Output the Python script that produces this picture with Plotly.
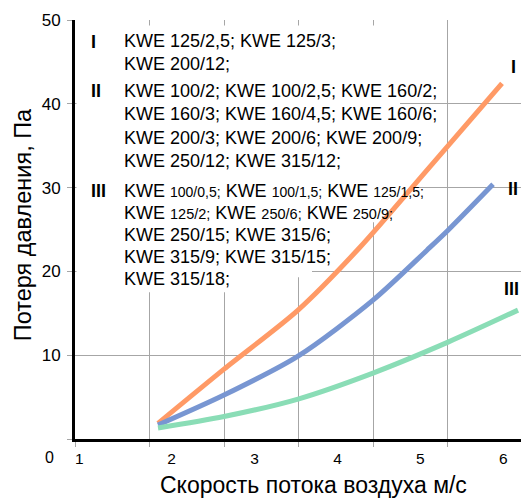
import plotly.graph_objects as go

# ---------------- data ----------------
x_I = [1.835, 2.631, 3.524, 4.271, 5.116, 5.984]
y_I = [1.87, 8.34, 15.38, 22.88, 32.5, 42.43]

x_II = [1.835, 2.631, 3.524, 4.428, 5.079, 5.333, 5.876]
y_II = [1.67, 5.24, 9.89, 16.57, 22.53, 24.91, 30.39]

x_III = [1.835, 2.631, 3.524, 4.428, 5.333, 6.177]
y_III = [1.31, 2.68, 4.77, 7.87, 11.56, 15.38]

series_names = ["I", "II", "III"]
series_colors = ["#FF9A66", "#7896D2", "#8ADDB6"]

x_tick_vals = [0.885, 2, 3, 4, 5, 6]
x_tick_text = ["1", "2", "3", "4", "5", "6"]
y_tick_vals = [0, 10, 20, 30, 40, 50]
y_tick_text = ["", "10", "20", "30", "40", "50"]

group_I = ["KWE 125/2,5; KWE 125/3;", "KWE 200/12;"]
group_II = ["KWE 100/2; KWE 100/2,5; KWE 160/2;",
            "KWE 160/3; KWE 160/4,5; KWE 160/6;",
            "KWE 200/3; KWE 200/6; KWE 200/9;",
            "KWE 250/12; KWE 315/12;"]
group_III = ["KWE 100/0,5; KWE 100/1,5; KWE 125/1,5;",
             "KWE 125/2; KWE 250/6; KWE 250/9;",
             "KWE 250/15; KWE 315/6;",
             "KWE 315/9; KWE 315/15;",
             "KWE 315/18;"]

x_title = "Скорость потока воздуха м/с"
y_title = "Потеря давления, Па"

# ---------------- geometry (pixels) ----------------
W, H = 521, 498
L, R, T, B = 75, 521, 19.5, 439        # plot area in pixels
X0, X1 = 0.834, 6.213                  # velocity-axis range
GRID_STEP = 74.5 / (R - L) * (X1 - X0)  # grid spacing in axis units


def pxp(px):
    return (px - L) / (R - L)


def pyp(py):
    return (B - py) / (B - T)


def dx(px):
    return X0 + (px - L) / (R - L) * (X1 - X0)


def dy(py):
    return (B - py) / (B - T) * 50


FONT = "Liberation Sans, Arial, sans-serif"

fig = go.Figure()
for xs, ys, name, col in zip([x_I, x_II, x_III], [y_I, y_II, y_III],
                             series_names, series_colors):
    fig.add_trace(go.Scatter(x=xs, y=ys, mode="lines", name=name,
                             line=dict(color=col, width=5, shape="spline", smoothing=0.8),
                             hoverinfo="skip"))

# white area behind the text block (covers the grid)
poly = [(76.5, 25), (400, 25), (400, 150), (412, 150), (412, 200), (390, 200),
        (390, 222), (335, 222), (335, 265), (312, 265), (312, 277), (240, 277),
        (240, 292), (76.5, 292)]
path = "M " + " L ".join(f"{dx(a):.4f},{dy(b):.4f}" for a, b in poly) + " Z"
fig.add_shape(type="path", path=path, xref="x", yref="y", layer="between",
              fillcolor="white", line=dict(width=0))

annotations = []


def smaller_numbers(line, size):
    parts = line.split("KWE ")
    out = []
    for p in parts[1:]:
        out.append("KWE " + f"<span style=\"font-size:{size}px\">{p.strip()}</span>")
    return " ".join(out)


line_y = {0: [40.7, 63.3], 1: [90.7, 114, 137.3, 160.7], 2: [191, 212.5, 234.5, 257, 279]}
num_y = [42, 91, 191]
num_size = [14, 14.5]
for gi, (grp, lab) in enumerate(zip([group_I, group_II, group_III], series_names)):
    annotations.append(dict(x=pxp(89), y=pyp(num_y[gi]), xref="paper", yref="paper",
                            text=f"<b>{lab}</b>", showarrow=False, xanchor="left",
                            yanchor="middle", font=dict(family=FONT, size=18, color="black")))
    for li, line in enumerate(grp):
        txt = line
        if gi == 2 and li < 2:
            txt = smaller_numbers(line, num_size[li])
        annotations.append(dict(x=pxp(122), y=pyp(line_y[gi][li]), xref="paper", yref="paper",
                                text=txt, showarrow=False, xanchor="left", yanchor="middle",
                                font=dict(family=FONT, size=18, color="black")))

# curve labels at right
for lab, (px, py, anc) in zip(series_names, [(513, 67, "center"), (513, 189, "center"),
                                             (521, 289, "right")]):
    annotations.append(dict(x=pxp(px), y=pyp(py), xref="paper", yref="paper",
                            text=f"<b>{lab}</b>", showarrow=False, xanchor=anc,
                            yanchor="middle", font=dict(family=FONT, size=18, color="black")))

# the offset "0" tick label
annotations.append(dict(x=pxp(49), y=pyp(458), xref="paper", yref="paper", text="0",
                        showarrow=False, xanchor="center", yanchor="middle",
                        font=dict(family=FONT, size=16, color="black")))
# axis titles
annotations.append(dict(x=pxp(313), y=pyp(485), xref="paper", yref="paper", text=x_title,
                        showarrow=False, xanchor="center", yanchor="middle",
                        font=dict(family=FONT, size=23, color="black")))
annotations.append(dict(x=pxp(23), y=pyp(225), xref="paper", yref="paper", text=y_title,
                        showarrow=False, textangle=-90, xanchor="center", yanchor="middle",
                        font=dict(family=FONT, size=23.5, color="black")))

GRID = "#A6A6A6"
fig.update_layout(
    width=W, height=H,
    margin=dict(l=L, r=W - R, t=T, b=H - B, pad=0, autoexpand=False),
    paper_bgcolor="white", plot_bgcolor="white",
    showlegend=False,
    font=dict(family=FONT, size=16, color="black"),
    xaxis=dict(range=[X0, X1], tickmode="array", tickvals=x_tick_vals, ticktext=x_tick_text,
               showgrid=False, zeroline=False, ticks="", showline=True, linecolor="black",
               linewidth=3, tickfont=dict(size=15.5), ticklabelstandoff=3, fixedrange=True,
               minor=dict(tickmode="linear", tick0=X0, dtick=GRID_STEP, showgrid=True,
                          gridcolor=GRID, gridwidth=1, ticks="outside", ticklen=5,
                          tickcolor=GRID)),
    yaxis=dict(range=[0, 50], tickmode="array", tickvals=y_tick_vals, ticktext=y_tick_text,
               showgrid=True, gridcolor=GRID, gridwidth=1, zeroline=False, ticks="outside",
               ticklen=5, tickcolor=GRID, showline=True, linecolor="black", linewidth=3,
               tickfont=dict(size=17), ticklabelstandoff=3, fixedrange=True),
    annotations=annotations,
)

# page body without default margin so the figure fills the window exactly
fig.write_html("out.html", config={"displayModeBar": False},
               post_script="document.body.style.margin='0';")
